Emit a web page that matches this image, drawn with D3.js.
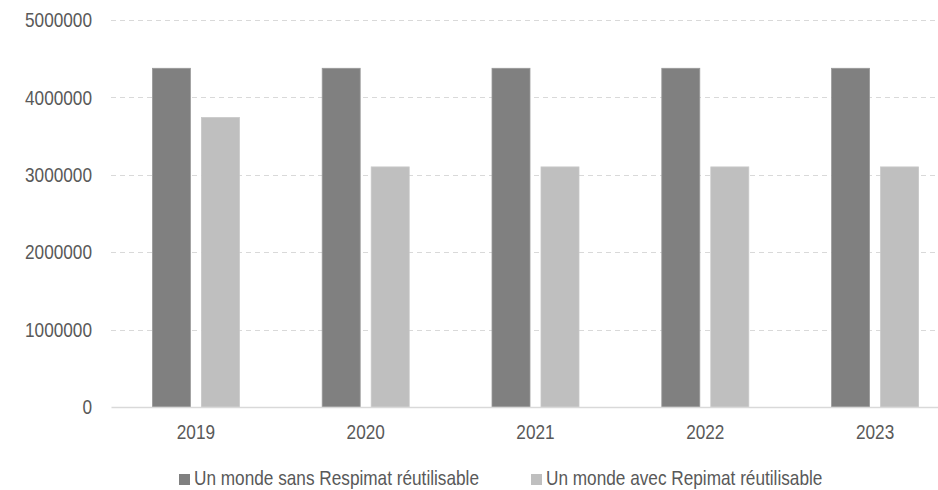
<!DOCTYPE html>
<html>
<head>
<meta charset="utf-8">
<script src="https://cdn.jsdelivr.net/npm/d3@7/dist/d3.min.js"></script>
<style>
  html, body { margin: 0; padding: 0; background: #fff; }
  svg { display: block; }
  text { font-family: "Liberation Sans", Arial, sans-serif; fill: #595959; }
</style>
</head>
<body>
<svg id="chart" width="938" height="490"></svg>
<script>
// Years on the x axis
const years = ["2019", "2020", "2021", "2022", "2023"];
// Series values (number of devices)
const sansRespimat = [4376000, 4376000, 4376000, 4376000, 4376000];
const avecRespimat = [3740000, 3102000, 3102000, 3102000, 3102000];
const seriesNames = ["Un monde sans Respimat réutilisable", "Un monde avec Repimat réutilisable"];
const seriesColors = ["#808080", "#bfbfbf"];
const seriesStroke = ["#999999", "#c9c9c9"];
const yTicks = [0, 1000000, 2000000, 3000000, 4000000, 5000000];

const FONT = 21;      // label size
const NARROW = 0.82;  // horizontal condensing of labels

const svg = d3.select("#chart");
const plot = { left: 111, right: 960, top: 20, bottom: 407 };

const x = d3.scaleBand().domain(years).range([plot.left, plot.right]);
const y = d3.scaleLinear().domain([0, 5000000]).range([plot.bottom, plot.top]);

const barW = 38, barGap = 11;
const groupW = barW * 2 + barGap;

// Grid lines
svg.append("g")
  .selectAll("line")
  .data(yTicks.filter(d => d > 0))
  .join("line")
  .attr("x1", plot.left).attr("x2", plot.right)
  .attr("y1", d => Math.round(y(d)) + 0.5).attr("y2", d => Math.round(y(d)) + 0.5)
  .attr("stroke", "#d9d9d9").attr("stroke-width", 1)
  .attr("stroke-dasharray", "5,4");

// Y axis labels (right edge at x = 92)
const yAxis = d3.axisLeft(y).tickValues(yTicks).tickSize(0).tickPadding(0).tickFormat(d3.format("d"));
const gy = svg.append("g").attr("transform", `translate(${plot.left},0)`).call(yAxis);
gy.select(".domain").remove();
gy.selectAll("text")
  .style("font-size", FONT + "px")
  .attr("fill", "#595959")
  .attr("x", 0)
  .attr("transform", `translate(-19,0) scale(${NARROW},1)`);

// Bars
const series = [sansRespimat, avecRespimat];
series.forEach((vals, si) => {
  svg.append("g")
    .selectAll("rect")
    .data(vals.map((v, i) => ({ year: years[i], v })))
    .join("rect")
    .attr("x", d => x(d.year) + x.bandwidth() / 2 - groupW / 2 + si * (barW + barGap))
    .attr("y", d => y(d.v))
    .attr("width", barW)
    .attr("height", d => y(0) - y(d.v))
    .attr("fill", seriesColors[si])
    .attr("stroke", seriesStroke[si])
    .attr("stroke-width", 0.8);
});

// Baseline and x labels
const xAxis = d3.axisBottom(x).tickSize(0).tickPadding(17);
const gx = svg.append("g").attr("transform", `translate(0,${plot.bottom})`).call(xAxis);
gx.select(".domain").attr("stroke", "#d9d9d9").attr("stroke-width", 1.5);
gx.selectAll("text")
  .style("font-size", FONT + "px")
  .attr("fill", "#595959")
  .attr("transform", `scale(${NARROW},1)`);

// Legend
const legendX = [179, 531];
const legend = svg.append("g");
seriesNames.forEach((name, i) => {
  legend.append("rect")
    .attr("x", legendX[i]).attr("y", 474)
    .attr("width", 11).attr("height", 11)
    .attr("fill", seriesColors[i]);
  legend.append("text")
    .attr("x", 0).attr("y", 0)
    .attr("transform", `translate(${legendX[i] + 15},485) scale(${NARROW},1)`)
    .style("font-size", FONT + "px")
    .text(name);
});
</script>
</body>
</html>
